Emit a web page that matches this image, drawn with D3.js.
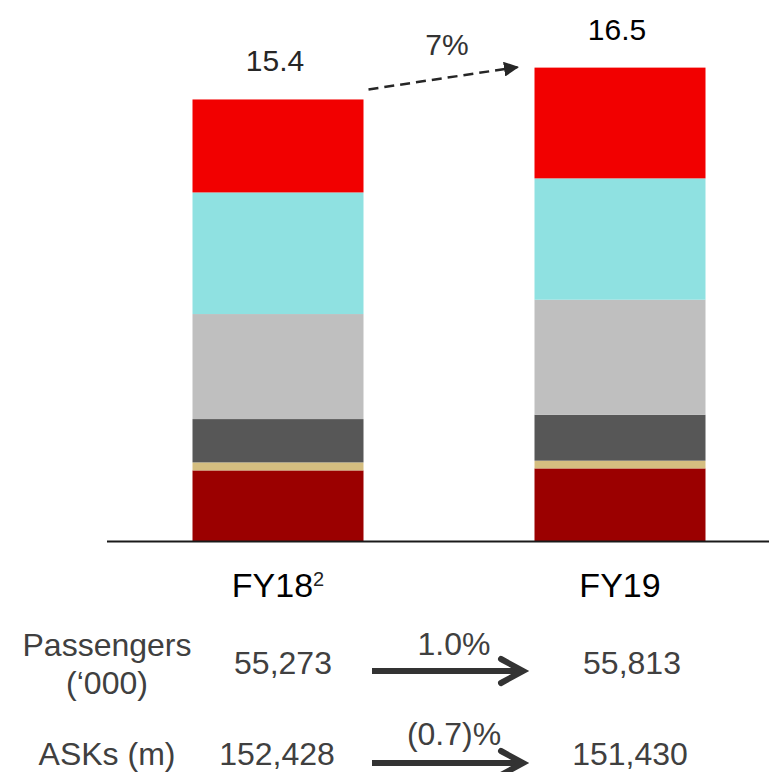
<!DOCTYPE html>
<html>
<head>
<meta charset="utf-8">
<script src="https://cdn.jsdelivr.net/npm/d3@7"></script>
<style>
  html, body { margin: 0; padding: 0; background: #fff; }
  svg { display: block; font-family: "Liberation Sans", Arial, sans-serif; }
</style>
</head>
<body>
<svg id="chart" width="769" height="772"></svg>
<script>
// ---- data ----
const categories = ["FY18", "FY19"];
const seriesKeys = ["s1", "s2", "s3", "s4", "s5", "s6"]; // bottom to top
const s1Values = [2.46, 2.53];  // dark red
const s2Values = [0.28, 0.27];  // tan
const s3Values = [1.51, 1.60];  // dark grey
const s4Values = [3.66, 4.01];  // light grey
const s5Values = [4.24, 4.23];  // cyan
const s6Values = [3.24, 3.86];  // red
const totalLabels = ["15.4", "16.5"];
const growthLabel = "7%";
const rowLabels = ["Passengers", "ASKs (m)"];
const passengers = ["55,273", "55,813"];
const passengersChange = "1.0%";
const asks = ["152,428", "151,430"];
const asksChange = "(0.7)%";

const colors = ["#9B0000", "#D5BE80", "#575757", "#BFBFBF", "#8FE1E1", "#F20000"];

// ---- build table ----
const seriesValues = [s1Values, s2Values, s3Values, s4Values, s5Values, s6Values];
const table = categories.map((c, i) => {
  const row = { cat: c };
  seriesKeys.forEach((k, j) => row[k] = seriesValues[j][i]);
  row.total = d3.sum(seriesValues, s => s[i]);
  return row;
});

const svg = d3.select("#chart");

const x = d3.scaleBand().domain(categories).range([107, 791])
  .paddingInner(0.5).paddingOuter(0.25);
const y = d3.scaleLinear().domain([0, 18]).range([541, 541 - 18 * 28.69]);

const stack = d3.stack().keys(seriesKeys);
const stacked = stack(table);

svg.append("g").selectAll("g").data(stacked).join("g")
  .attr("fill", (d, i) => colors[i])
  .selectAll("rect").data(d => d).join("rect")
  .attr("x", d => x(d.data.cat))
  .attr("width", x.bandwidth())
  .attr("y", d => y(d[1]))
  .attr("height", d => y(d[0]) - y(d[1]));

// baseline axis
const axis = d3.axisBottom(x).tickSize(0).tickFormat("");
const axisG = svg.append("g").attr("transform", "translate(0,541.5)").call(axis);
axisG.select(".domain").remove();
svg.append("line").attr("x1", 107).attr("x2", 769).attr("y1", 541.5).attr("y2", 541.5)
  .attr("stroke", "#1a1a1a").attr("stroke-width", 2);

// total labels
svg.append("g").selectAll("text").data(table).join("text")
  .attr("x", d => x(d.cat) + x.bandwidth() / 2 - 3)
  .attr("y", d => y(d.total) - 28)
  .attr("text-anchor", "middle")
  .attr("font-size", 30)
  .attr("fill", (d, i) => i === 0 ? "#262626" : "#000")
  .text((d, i) => totalLabels[i]);

// dashed growth arrow
const defs = svg.append("defs");
defs.append("marker").attr("id", "tri").attr("viewBox", "0 0 10 10")
  .attr("refX", 9).attr("refY", 5).attr("markerWidth", 6).attr("markerHeight", 6)
  .attr("markerUnits", "strokeWidth").attr("orient", "auto")
  .append("path").attr("d", "M0,0 L10,5 L0,10 Z").attr("fill", "#262626");

const x0r = x(categories[0]) + x.bandwidth();
const x1l = x(categories[1]);
svg.append("line")
  .attr("x1", x0r + 5).attr("y1", y(table[0].total) - 10)
  .attr("x2", x1l - 17).attr("y2", y(table[1].total) - 0.5)
  .attr("stroke", "#262626").attr("stroke-width", 2.5)
  .attr("stroke-dasharray", "10,6")
  .attr("marker-end", "url(#tri)");
svg.append("text").attr("x", 447).attr("y", 55).attr("text-anchor", "middle")
  .attr("font-size", 30).attr("fill", "#333").text(growthLabel);

// category labels
const catG = svg.append("g").selectAll("text").data(categories).join("text")
  .attr("x", d => x(d) + x.bandwidth() / 2)
  .attr("y", 597)
  .attr("text-anchor", "middle")
  .attr("font-size", 34)
  .attr("fill", "#000");
catG.append("tspan").text(d => d);
catG.filter((d, i) => i === 0).append("tspan")
  .attr("font-size", 20).attr("dy", -11).attr("fill", "#222").text("2");

// bottom rows
const rowColor = "#404040";
const rows = svg.append("g").attr("font-size", 32).attr("fill", rowColor);
rows.append("text").attr("x", 107).attr("y", 656).attr("text-anchor", "middle").text(rowLabels[0]);
rows.append("text").attr("x", 107).attr("y", 694).attr("text-anchor", "middle").text("(\u2018000)");
rows.append("text").attr("x", 107).attr("y", 765).attr("text-anchor", "middle").text(rowLabels[1]);

const colX = [x(categories[0]) + x.bandwidth() / 2 + 5, x(categories[1]) + x.bandwidth() / 2 + 12];
rows.selectAll(".pax").data(passengers).join("text").attr("class", "pax")
  .attr("x", (d, i) => colX[i]).attr("y", 674).attr("text-anchor", "middle").text(d => d);
rows.selectAll(".ask").data(asks).join("text").attr("class", "ask")
  .attr("x", (d, i) => colX[i] - (i === 0 ? 6 : 2)).attr("y", 765).attr("text-anchor", "middle").text(d => d);

rows.append("text").attr("x", 454).attr("y", 655).attr("text-anchor", "middle").text(passengersChange);
rows.append("text").attr("x", 454).attr("y", 745).attr("text-anchor", "middle").text(asksChange);

// bold arrows
function boldArrow(yy) {
  const g = svg.append("g").attr("stroke", "#333").attr("fill", "none")
    .attr("stroke-width", 6);
  g.append("line").attr("x1", 372).attr("x2", 522).attr("y1", yy).attr("y2", yy)
    .attr("stroke-linecap", "butt");
  g.append("path").attr("d", `M501,${yy - 12} L523,${yy} L501,${yy + 12}`)
    .attr("stroke-linecap", "round").attr("stroke-linejoin", "miter");
}
boldArrow(671);
boldArrow(763);
</script>
</body>
</html>
